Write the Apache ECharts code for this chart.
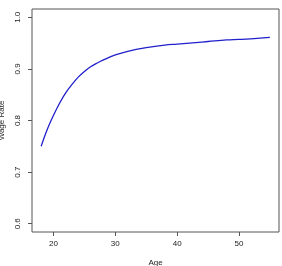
<!DOCTYPE html>
<html>
<head>
<meta charset="utf-8">
<script src="https://cdn.jsdelivr.net/npm/echarts@6/dist/echarts.min.js"></script>
<style>
  html, body { margin: 0; padding: 0; background: #fff; }
  #chart { width: 282px; height: 266px; }
</style>
</head>
<body>
<div id="chart"></div>
<script>
// ages and fitted wage rate
var ages = [18, 19, 20, 21, 22, 23, 24, 25, 26, 27, 28, 30, 32, 35, 38, 40, 43, 45, 48, 50, 53, 55];
var wageRate = [0.750, 0.783, 0.810, 0.834, 0.854, 0.870, 0.884, 0.895, 0.904, 0.911, 0.917,
  0.927, 0.934, 0.941, 0.946, 0.948, 0.951, 0.953, 0.956, 0.957, 0.959, 0.961];
var xTicks = [20, 30, 40, 50];
var yTicks = [0.6, 0.7, 0.8, 0.9, 1.0];

var points = ages.map(function (a, i) { return [a, wageRate[i]]; });

var chart = echarts.init(document.getElementById("chart"));
var font = "Liberation Sans, Arial, sans-serif";
chart.setOption({
  animation: false,
  grid: {
    left: 32, right: 3, top: 9, bottom: 34,
    outerBoundsMode: "none",
    show: true, borderColor: "#555", borderWidth: 1
  },
  xAxis: {
    type: "value",
    min: 16.52, max: 56.48,
    name: "Age", nameLocation: "middle", nameGap: 27,
    nameTextStyle: { fontFamily: font, fontSize: 8, color: "#222" },
    axisLine: { show: false },
    splitLine: { show: false },
    axisTick: { show: true, length: 4, lineStyle: { color: "#555" }, customValues: xTicks },
    axisLabel: { fontFamily: font, fontSize: 8, color: "#222", margin: 8, customValues: xTicks }
  },
  yAxis: {
    type: "value",
    min: 0.584, max: 1.016,
    name: "Wage Rate", nameLocation: "middle", nameGap: 24,
    nameTextStyle: { fontFamily: font, fontSize: 8, color: "#222" },
    axisLine: { show: false },
    splitLine: { show: false },
    axisTick: { show: true, length: 4, lineStyle: { color: "#555" }, customValues: yTicks },
    axisLabel: {
      fontFamily: font, fontSize: 8, color: "#222", margin: 10, rotate: 90,
      customValues: yTicks,
      formatter: function (v) { return v.toFixed(1); }
    }
  },
  series: [{
    type: "line",
    data: points,
    smooth: 0.4,
    showSymbol: false,
    lineStyle: { color: "#2020cc", width: 1.3 }
  }]
});
</script>
</body>
</html>
